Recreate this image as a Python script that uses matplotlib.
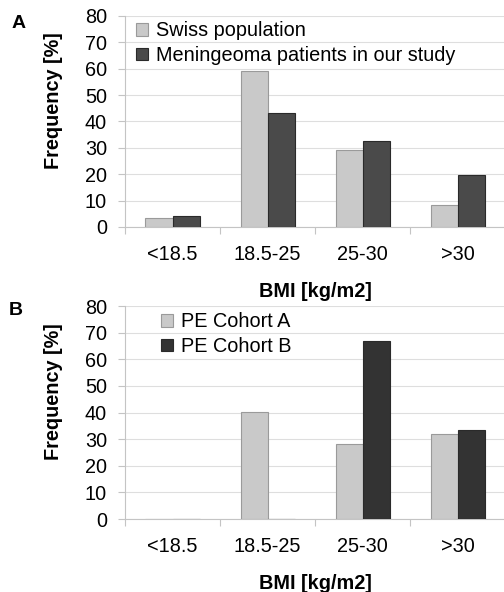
import matplotlib
matplotlib.use("Agg")
import matplotlib.pyplot as plt
import numpy as np

categories = ["<18.5", "18.5-25", "25-30", ">30"]
swiss = [3.5, 59.2, 29.2, 8.2]
meningeoma = [4.0, 43.1, 32.6, 19.8]
cohort_a = [0, 40.2, 28.1, 32.1]
cohort_b = [0, 0, 67.0, 33.3]
yticks = [0, 10, 20, 30, 40, 50, 60, 70, 80]

plt.rcParams['font.family'] = ['Liberation Sans', 'DejaVu Sans']

fig = plt.figure(figsize=(5.04, 5.92), dpi=100)
light = "#c9c9c9"
light_edge = "#9a9a9a"
dark_a = "#4a4a4a"
dark_b = "#333333"
axis_col = "#c4c4c4"
FS = 14.3

def panel(rect, s1, s2, labels, dark, legend_pos, letter, letter_pos):
    ax = fig.add_axes(rect)
    x = np.arange(len(categories))
    w = 0.285
    ax.bar(x - w/2, s1, w, color=light, edgecolor=light_edge, linewidth=0.8, label=labels[0], zorder=3)
    ax.bar(x + w/2, s2, w, color=dark, edgecolor="#2a2a2a", linewidth=0.8, label=labels[1], zorder=3)
    ax.set_xlim(-0.5, 3.5)
    ax.set_ylim(0, 80)
    ax.set_yticks(yticks)
    ax.set_xticks(x)
    ax.set_xticklabels(categories, fontsize=FS)
    ax.set_xticks([-0.5, 0.5, 1.5, 2.5, 3.5], minor=True)
    ax.tick_params(axis='x', which='major', length=0, pad=13)
    ax.tick_params(axis='x', which='minor', length=5, color=axis_col, width=0.8)
    ax.tick_params(axis='y', length=5, color=axis_col, width=0.8, pad=8, labelsize=FS)
    for sp in ["top", "right"]:
        ax.spines[sp].set_visible(False)
    for sp in ["bottom", "left"]:
        ax.spines[sp].set_color(axis_col)
        ax.spines[sp].set_linewidth(0.8)
    ax.grid(axis='y', color="#dedede", linewidth=0.8, zorder=0)
    ax.set_axisbelow(True)
    ax.set_xlabel("BMI [kg/m2]", fontsize=FS, fontweight='bold', labelpad=13)
    ax.set_ylabel("Frequency [%]", fontsize=FS, fontweight='bold')
    ax.yaxis.set_label_coords(-0.163, 0.6)
    ax.legend(loc="upper left", bbox_to_anchor=legend_pos, frameon=False, fontsize=FS,
              handlelength=0.6, handleheight=0.6, handletextpad=0.4, labelspacing=0.28,
              borderaxespad=0, borderpad=0)
    fig.text(letter_pos[0], letter_pos[1], letter, fontsize=14, fontweight='bold', ha='center', va='center')
    return ax

panel([0.248, 0.6166, 0.755, 0.3564], swiss, meningeoma,
      ["Swiss population", "Meningeoma patients in our study"], dark_a,
      (0.03, 0.974), "A", (0.036, 0.961))
panel([0.248, 0.1233, 0.755, 0.3598], cohort_a, cohort_b,
      ["PE Cohort A", "PE Cohort B"], dark_b,
      (0.095, 0.97), "B", (0.032, 0.476))

fig.savefig("out.png", dpi=100)
